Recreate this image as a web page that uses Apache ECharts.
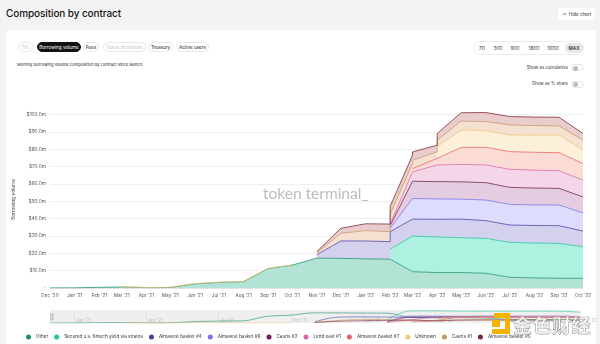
<!DOCTYPE html>
<html>
<head>
<meta charset="utf-8">
<script src="https://cdn.jsdelivr.net/npm/echarts@6/dist/echarts.min.js"></script>
<style>
  html, body { margin:0; padding:0; width:600px; height:344px; overflow:hidden; background:#f3f3f3; font-family:Inter, "Noto Sans", sans-serif; }
  #card { position:absolute; left:6px; top:30px; width:590px; height:330px; background:#fff; border-radius:4px; }
  #chart { position:absolute; left:0; top:0; width:600px; height:344px; }
  .abs { position:absolute; white-space:nowrap; }
  .title { left:6px; top:7px; font-size:10px; font-weight:500; color:#151515; letter-spacing:-0.1px; }
  .hide { left:558px; top:8px; width:37px; height:12px; background:#fff; border-radius:3px; font-size:4.6px; color:#333; display:flex; align-items:center; justify-content:center; gap:2px; }
  .pill { top:42px; height:10px; border:1px solid #e8e8e8; box-sizing:border-box; border-radius:6px; font-size:4.6px; color:#222; display:flex; align-items:center; justify-content:center; }
  .pill.on { background:#111; border-color:#111; color:#fff; }
  .pill.off { color:#c4c4c4; }
  .sub { left:17px; top:61.5px; font-size:4.1px; color:#222; }
  .range { left:473px; top:41px; width:111px; height:14px; border:1px solid #ececec; box-sizing:border-box; border-radius:7px; }
  .ri { top:45.5px; font-size:4.6px; color:#333; transform:translateX(-50%); }
  .maxbg { left:565px; top:43px; width:18px; height:10px; background:#e6e6e6; border-radius:5px; }
  .opt { font-size:4.4px; color:#333; text-align:right; right:32px; }
  .tog { left:571px; width:13px; height:7px; border:1px solid #e6e6e6; box-sizing:border-box; border-radius:4px; background:#fff; }
  .knob { position:absolute; left:1px; top:0.5px; width:5px; height:5px; border-radius:50%; background:#bdbdbd; }
  .wm { left:513px; top:311px; font-family:"Noto Sans CJK SC", sans-serif; font-size:19px; font-weight:700; color:rgba(255,255,255,0.92); -webkit-text-stroke:0.7px #a8a8a8; letter-spacing:0.5px; }
</style>
</head>
<body>
<div id="card"></div>
<div class="abs title">Composition by contract</div>
<div class="abs hide"><svg width="5" height="4" viewBox="0 0 5 4"><path d="M0.6 3.2 L2.5 1.2 L4.4 3.2" fill="none" stroke="#333" stroke-width="0.7"/></svg><span>Hide chart</span></div>

<div class="abs pill off" style="left:18px;width:15px;">TVL</div>
<div class="abs pill on" style="left:37px;width:44px;">Borrowing volume</div>
<div class="abs pill" style="left:83px;width:16px;">Fees</div>
<div class="abs pill off" style="left:103px;width:43px;">Token incentives</div>
<div class="abs pill" style="left:148px;width:25px;">Treasury</div>
<div class="abs pill" style="left:176px;width:33px;">Active users</div>

<div class="abs sub">Monthly borrowing volume composition by contract since launch.</div>

<div class="abs range"></div>
<div class="abs maxbg"></div>
<div class="abs ri" style="left:482px;">7D</div>
<div class="abs ri" style="left:498px;">30D</div>
<div class="abs ri" style="left:515px;">90D</div>
<div class="abs ri" style="left:534px;">180D</div>
<div class="abs ri" style="left:553px;">365D</div>
<div class="abs ri" style="left:574px;font-weight:600;">MAX</div>

<div class="abs opt" style="top:64.5px;">Show as cumulative</div>
<div class="abs tog" style="top:64px;"><div class="knob"></div></div>
<div class="abs opt" style="top:81px;">Show as % share</div>
<div class="abs tog" style="top:80.5px;"><div class="knob"></div></div>

<div id="chart"></div>

<svg class="abs" style="left:490px;top:312px;z-index:5" width="22" height="23" viewBox="0 0 22 23">
  <rect x="4" y="1" width="16" height="5" fill="#f5b300"/>
  <rect x="15" y="1" width="5" height="21" fill="#f5b300"/>
  <rect x="2" y="17" width="18" height="5" fill="#f5b300"/>
  <rect x="2" y="8" width="8" height="7" fill="#f5b300"/>
</svg>
<div class="abs wm" style="z-index:5">金色财经</div>

<script>
// Month ticks along the time axis
const months = ["Dec '20","Jan '21","Feb '21","Mar '21","Apr '21","May '21","Jun '21","Jul '21","Aug '21","Sep '21","Oct '21","Nov '21","Dec '21","Jan '22","Feb '22","Mar '22","Apr '22","May '22","Jun '22","Jul '22","Aug '22","Sep '22","Oct '22"];

// Sample periods; a month listed twice marks contracts that join mid-stack
const periods = ["Dec '20","Jan '21","Feb '21","Mar '21","Apr '21","May '21","Jun '21","Jul '21","Aug '21","Sep '21","Oct '21","Nov '21","Dec '21","Jan '22","Feb '22","Feb '22","Mar '22","Mar '22","Apr '22","Apr '22","May '22","Jun '22","Jul '22","Aug '22","Sep '22","Oct '22"];

const seriesNames = ['Other','Secured u.s. fintech yield via stratos','Almavest basket #4','Almavest basket #6','Cauris #2','Lend east #1','Almavest basket #7','Unknown','Cauris #1','Almavest basket #5'];

// Borrowing volume, $m
const other     = [0.05,0.1,0.4,0.6,0.2,0.3,2.4,3.2,3.7,11.2,13.2,17.2,17.1,16.8,16.6,16.6,9.4,9.4,8.9,8.9,8.9,8.5,6.2,5.8,5.6,5.6];
const secured   = [null,null,null,null,null,null,null,null,null,null,null,null,null,null,null,5.75,20.5,20.5,20.5,20.5,20.1,20.1,20.1,20.1,20.1,18.2];
const almavest4 = [null,null,null,null,null,null,null,null,null,null,null,2.0,10.0,10.3,10.1,10.1,9.8,9.8,10.2,10.2,10.7,10.2,10.0,10.1,10.2,9.0];
const almavest6 = [null,null,null,null,null,null,null,null,null,null,null,null,null,null,null,2.0,11.9,11.9,11.7,11.7,11.5,11.9,11.9,11.9,11.9,10.5];
const cauris2   = [null,null,null,null,null,null,null,null,null,null,null,null,null,null,null,1.5,9.9,9.9,10.0,10.0,10.0,10.0,9.8,9.7,9.6,9.2];
const lendEast1 = [null,null,null,null,null,null,null,null,null,null,null,null,null,null,null,1.0,5.4,5.4,9.6,9.6,10.0,10.2,10.4,10.3,10.2,9.6];
const almavest7 = [null,null,null,null,null,null,null,null,null,null,null,null,null,null,null,null,null,1.9,3.8,3.8,9.8,10.2,10.2,10.3,10.4,9.6];
const unknown   = [null,null,null,0.15,0.15,0.15,0.15,0.15,0.15,0.15,0.15,null,null,null,null,null,null,null,null,6.7,10.0,9.6,9.6,9.9,10.2,7.7];
const cauris1   = [null,null,null,null,null,null,null,null,null,null,null,1.0,4.4,6.0,5.75,5.75,4.8,4.8,3.8,3.8,5.2,5.2,5.8,5.5,5.2,5.8];
const almavest5 = [null,null,null,null,null,null,null,null,null,null,null,0.8,2.9,3.9,4.4,4.4,4.8,4.8,3.8,3.8,4.8,5.2,4.8,4.9,5.0,3.8];

const seriesValues = [other, secured, almavest4, almavest6, cauris2, lendEast1, almavest7, unknown, cauris1, almavest5];

const lineColors = ['#1f8f6f','#22c59b','#4b3fa3','#7d70e6','#6a1f4f','#d964a9','#e85f5f','#f1c37e','#c69568','#7b2536'];
const fillColors = ['#b3e3d4','#aef1e1','#d3d1ee','#dedcfc','#e4cde0','#f5d6e9','#fbdcd4','#fdf0d9','#f5e1cf','#e9cdcd'];

const MONTH_ABBR = ['Jan','Feb','Mar','Apr','May','Jun','Jul','Aug','Sep','Oct','Nov','Dec'];
// "Mon 'YY" -> first day of that month
function monthStart(label) {
  const mon = MONTH_ABBR.indexOf(label.slice(0, 3));
  const year = 2000 + parseInt(label.slice(-2), 10);
  return new Date(year, mon, 1).getTime();
}
function monthLabel(ts) {
  const d = new Date(ts);
  return MONTH_ABBR[d.getMonth()] + " '" + String(d.getFullYear()).slice(-2);
}

const xTimes = periods.map(monthStart);
const DAY = 24 * 3600 * 1000;

// Stacked areas on the main grid
const mainSeries = seriesNames.map((name, k) => ({
  name, type: 'line', stack: 'total', xAxisIndex: 0, yAxisIndex: 0,
  symbol: 'none', showSymbol: false, connectNulls: false,
  data: xTimes.map((t, i) => [t, seriesValues[k][i] === null ? '-' : seriesValues[k][i]]),
  lineStyle: { width: 0.9, color: lineColors[k], opacity: 0.85 },
  itemStyle: { color: lineColors[k] },
  areaStyle: { color: fillColors[k], opacity: 1 },
  emphasis: { disabled: true }
}));

// Overview strip: one value per month (latest sample in that month), unstacked
const overviewSeries = seriesNames.map((name, k) => {
  const monthly = months.map(m => {
    let v = null;
    periods.forEach((p, i) => { if (p === m && seriesValues[k][i] !== null) v = seriesValues[k][i]; });
    return v === null ? '-' : v;
  });
  return {
    name, type: 'line', xAxisIndex: 1, yAxisIndex: 1, smooth: 0.4,
    symbol: 'none', showSymbol: false, data: monthly,
    lineStyle: { width: 0.8, color: lineColors[k], opacity: 0.75 },
    itemStyle: { color: lineColors[k] },
    emphasis: { disabled: true }, silent: true
  };
});

const chart = echarts.init(document.getElementById('chart'));
chart.setOption({
  animation: false,
  textStyle: { fontFamily: 'Inter, "Noto Sans", sans-serif' },
  grid: [
    { left: 50, right: 17, top: 111, height: 177 },
    { left: 50, right: 17, top: 310, height: 13, show: true, backgroundColor: '#efefef', borderWidth: 0 }
  ],
  xAxis: [
    {
      type: 'time', gridIndex: 0,
      min: monthStart(months[0]), max: monthStart(months[months.length - 1]),
      minInterval: 27 * DAY, maxInterval: 31 * DAY, splitNumber: 22,
      axisLine: { show: true, lineStyle: { color: '#e4e4e4' } },
      axisTick: { show: false },
      splitLine: { show: false },
      axisLabel: { formatter: v => monthLabel(v), fontSize: 4.7, color: '#555', margin: 5, hideOverlap: false }
    },
    {
      type: 'category', gridIndex: 1, data: months, boundaryGap: false,
      axisLine: { show: false }, axisTick: { show: false },
      splitLine: { show: true, interval: i => (i - 1) % 3 === 0, lineStyle: { color: '#dadada', width: 0.6 } },
      axisLabel: { inside: true, interval: i => (i - 1) % 3 === 0, align: 'left', verticalAlign: 'bottom', padding: [0, 0, 0, 2], margin: 0.5, fontSize: 4.4, color: '#b8b8b8' }
    }
  ],
  yAxis: [
    {
      type: 'value', gridIndex: 0, min: 0, max: 102, interval: 10,
      name: 'Borrowing volume', nameLocation: 'middle', nameRotate: 90, nameGap: 29,
      nameTextStyle: { fontSize: 4.8, color: '#444' },
      axisLine: { show: false }, axisTick: { show: false },
      splitLine: { show: true, showMaxLine: false, lineStyle: { color: '#efefef', width: 1 } },
      axisLabel: { showMaxLabel: false, fontSize: 4.8, color: '#555', margin: 4,
        formatter: v => v === 0 ? '-' : '$' + v.toFixed(1) + 'm' }
    },
    { type: 'value', gridIndex: 1, min: 0, max: 22, show: false }
  ],
  legend: {
    data: seriesNames, left: 21, top: 329.5, icon: 'circle',
    itemWidth: 5, itemHeight: 5, itemGap: 6,
    textStyle: { fontSize: 4.6, color: '#333' }, selectedMode: false
  },
  graphic: [
    { type: 'text', left: 263, top: 186, z: 50, silent: true,
      style: { text: 'token terminal_', fontSize: 15.5, fill: '#bdbdbd', fontFamily: 'Lato, Inter, sans-serif' } },
    { type: 'rect', left: 50.5, top: 313.5, z: 60, silent: true,
      shape: { width: 2, height: 6, r: 0.5 }, style: { fill: '#fff', stroke: '#777', lineWidth: 0.6 } }
  ],
  series: mainSeries.concat(overviewSeries)
});
</script>
</body>
</html>
